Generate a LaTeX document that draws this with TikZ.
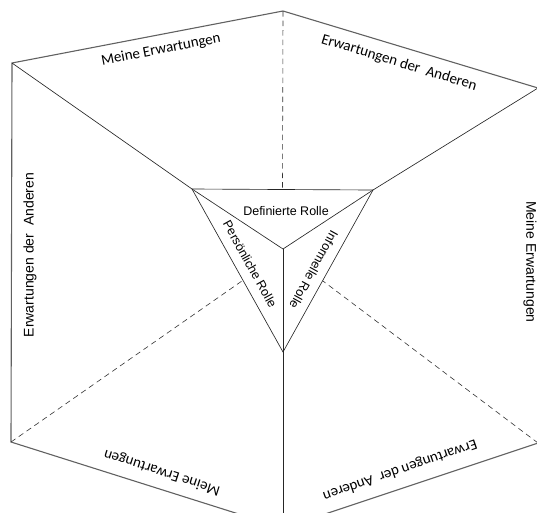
\documentclass[tikz,border=0pt]{standalone}
\usepackage{fontspec}
\setmainfont{Liberation Sans}
\newfontfamily\carlito{Carlito}
\usetikzlibrary{calc}

\tikzset{
    rim/.style={draw=black!62, line width=1.1pt},
    crease/.style={draw=black!80, line width=0.6pt, dash pattern=on 5.5pt off 4pt},
    core/.style={draw=black!85, line width=0.65pt},
    arial/.style={font=\fontsize{12.5}{14}\selectfont, inner sep=0pt},
    side/.style={font=\fontsize{14}{16}\selectfont, inner sep=0pt},
    slant/.style={font=\carlito\fontsize{15}{17}\selectfont, inner sep=0pt},
}

\begin{document}
\begin{tikzpicture}[x=1pt, y=-1pt]
    \useasboundingbox (0,0) rectangle (537,512);
    \clip (0,0) rectangle (537,512);

    % Define nodes
    \coordinate (top) at (283,11);
    \coordinate (tl)  at (12,63);
    \coordinate (tr)  at (538,88);
    \coordinate (bl)  at (11,442);
    \coordinate (br)  at (538,443);
    \coordinate (bot) at (283,528);

    \coordinate (a) at (192,189);
    \coordinate (b) at (373,190);
    \coordinate (c) at (283,352);
    \coordinate (m) at (283,249);

    \coordinate (ab) at ($(a)!0.5!(b)$);
    \coordinate (ac) at ($(a)!0.56!(c)$);
    \coordinate (bc) at ($(b)!0.56!(c)$);

    % Connect nodes
    \draw[rim] (tl) -- (top) -- (tr) -- (br) -- (bot) -- (bl) -- cycle;
    \draw[core] (a) -- (b) -- (c) -- cycle;
    \draw[core] (m) -- (a);
    \draw[core] (m) -- (b);
    \draw[core] (m) -- (c);
    \draw[core] (tl) -- (a);
    \draw[core] (tr) -- (b);
    \draw[core] (c) -- (bot);
    \draw[crease] (top) -- (ab);
    \draw[crease] (bl) -- (ac);
    \draw[crease] (br) -- (bc);

    % labels
    \node[arial] (def) at (286,211) {Definierte Rolle};
    \node[arial, rotate=-61] (pers) at (250,264) {Persönliche Rolle};
    \node[arial, rotate=-119] (info) at (314,270) {Informelle Rolle};

    \node[slant, rotate=11] (me1) at (161,50) {Meine Erwartungen};
    \node[slant, rotate=-17] (oth1) at (399,63) {Erwartungen der\ \ Anderen};
    \node[side, rotate=90] (oth2) at (30,255) {Erwartungen der\ \ Anderen};
    \node[side, rotate=-90] (me2) at (530,262) {Meine Erwartungen};
    \node[slant, rotate=162] (me3) at (162,472) {Meine Erwartungen};
    \node[slant, rotate=-161] (oth3) at (400,470) {Erwartungen der\ \ Anderen};
\end{tikzpicture}
\end{document}
